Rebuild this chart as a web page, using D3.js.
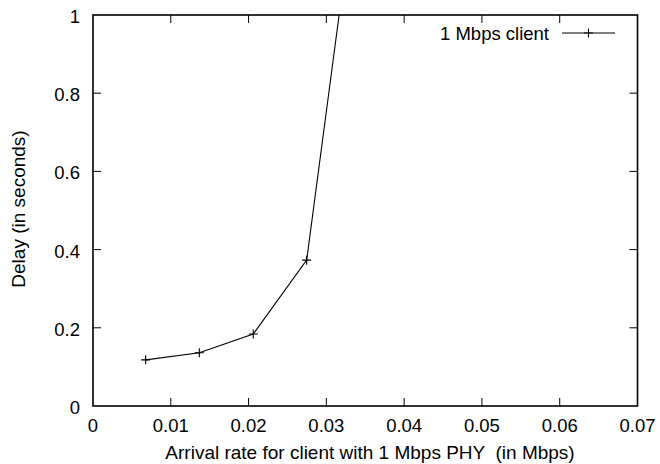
<!DOCTYPE html>
<html><head><meta charset="utf-8">
<script src="https://cdn.jsdelivr.net/npm/d3@7"></script>
<style>body{margin:0;background:#fff}svg{display:block}text{font-family:"Liberation Sans",Arial,sans-serif;fill:#000;white-space:pre}</style>
</head><body>
<svg id="c" width="660" height="464"></svg>
<script>
const rates = [0.00677, 0.01367, 0.0206, 0.02747, 0.0343];
const delays = [0.118, 0.136, 0.184, 0.373, 1.40];
const xTicks = [0, 0.01, 0.02, 0.03, 0.04, 0.05, 0.06, 0.07];
const yTicks = [0, 0.2, 0.4, 0.6, 0.8, 1];
const seriesName = "1 Mbps client";
const xTitle = "Arrival rate for client with 1 Mbps PHY  (in Mbps)";
const yTitle = "Delay (in seconds)";

const svg = d3.select("#c");
const L = 93, R = 637.5, T = 15, B = 406;
const x = d3.scaleLinear().domain([0, 0.07]).range([L, R]);
const y = d3.scaleLinear().domain([0, 1]).range([B, T]);
const tl = 8;
const fs = 18.5;

svg.append("clipPath").attr("id","clip").append("rect")
  .attr("x",L).attr("y",T).attr("width",R-L).attr("height",B-T);

const g = svg.append("g");
xTicks.forEach(v => {
  if (v === 0 || v === 0.07) return;
  g.append("line").attr("x1",x(v)).attr("x2",x(v)).attr("y1",B).attr("y2",B-tl).attr("stroke","#000").attr("stroke-width",1);
  g.append("line").attr("x1",x(v)).attr("x2",x(v)).attr("y1",T).attr("y2",T+tl).attr("stroke","#000").attr("stroke-width",1);
});
yTicks.forEach(v => {
  if (v === 0 || v === 1) return;
  g.append("line").attr("x1",L).attr("x2",L+tl).attr("y1",y(v)).attr("y2",y(v)).attr("stroke","#000").attr("stroke-width",1);
  g.append("line").attr("x1",R).attr("x2",R-tl).attr("y1",y(v)).attr("y2",y(v)).attr("stroke","#000").attr("stroke-width",1);
});
xTicks.forEach(v => {
  g.append("text").attr("x",x(v)).attr("y",B+26).attr("text-anchor","middle").attr("font-size",fs).text(String(v));
});
yTicks.forEach(v => {
  g.append("text").attr("x",80).attr("y",y(v)+8).attr("text-anchor","end").attr("font-size",fs).text(String(v));
});
g.append("rect").attr("x",L).attr("y",T).attr("width",R-L).attr("height",B-T)
  .attr("fill","none").attr("stroke","#000").attr("stroke-width",1.6);

const pts = rates.map((r,i)=>[r,delays[i]]);
const line = d3.line().x(d=>x(d[0])).y(d=>y(d[1]));
const pg = svg.append("g").attr("clip-path","url(#clip)");
pg.append("path").attr("d",line(pts)).attr("fill","none").attr("stroke","#000").attr("stroke-width",1.1);
const cs = 4.5;
pts.forEach(d => {
  const cx = x(d[0]), cy = y(d[1]);
  pg.append("path").attr("d",`M${cx-cs},${cy}H${cx+cs}M${cx},${cy-cs}V${cy+cs}`).attr("stroke","#000").attr("stroke-width",1.1);
});

const ly = 33;
svg.append("text").attr("x",549).attr("y",ly+6.5).attr("text-anchor","end").attr("font-size",fs).text(seriesName);
svg.append("line").attr("x1",562).attr("x2",615).attr("y1",ly).attr("y2",ly).attr("stroke","#000").attr("stroke-width",1.1);
svg.append("path").attr("d",`M${588.5-cs},${ly}H${588.5+cs}M588.5,${ly-cs}V${ly+cs}`).attr("stroke","#000").attr("stroke-width",1.1);

svg.append("text").attr("x",370).attr("y",459).attr("text-anchor","middle").attr("font-size",19).text(xTitle);
svg.append("text").attr("transform",`translate(25,209) rotate(-90)`).attr("text-anchor","middle").attr("font-size",19).text(yTitle);
</script>
</body></html>
